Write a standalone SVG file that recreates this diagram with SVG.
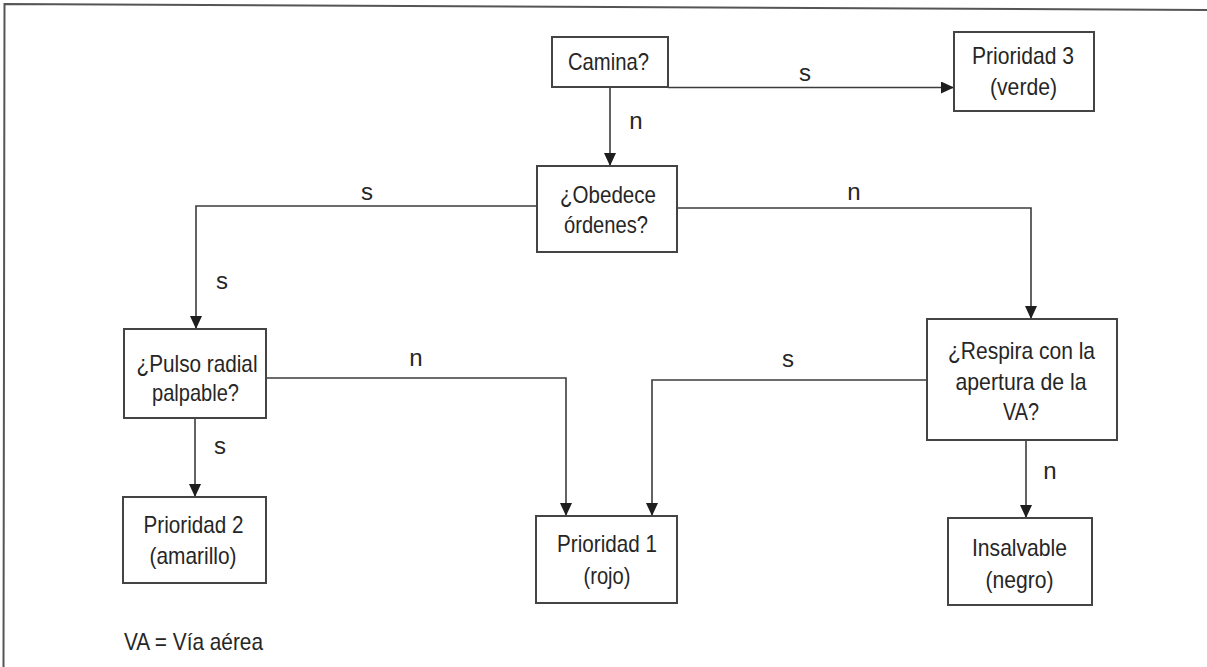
<svg xmlns="http://www.w3.org/2000/svg" width="1207" height="667" viewBox="0 0 1207 667">
<defs>
<style>
.box{fill:#fff;stroke:#444;stroke-width:2}
.t{font-family:"Liberation Sans Narrow","Liberation Sans",Arial,sans-serif;font-size:24px;fill:#262626;text-anchor:middle}
.lbl{font-family:"Liberation Sans Narrow","Liberation Sans",Arial,sans-serif;font-size:24px;fill:#262626;text-anchor:middle}
.c{fill:none;stroke:#3c3c3c;stroke-width:1.6}
</style>
<marker id="arr" markerUnits="userSpaceOnUse" markerWidth="14" markerHeight="13" refX="13" refY="6" orient="auto">
<path d="M0,0 L13,6 L0,12 z" fill="#1e1e1e"/>
</marker>
</defs>
<rect x="0" y="0" width="1207" height="667" fill="#ffffff"/>
<path d="M3.5,667 L4.5,4 L1207,10" fill="none" stroke="#555" stroke-width="2"/>

<g id="connectors">
<path class="c" d="M668,87.5 L954,87.5" marker-end="url(#arr)"/>
<path class="c" d="M610,87 L610,166" marker-end="url(#arr)"/>
<path class="c" d="M536,206 L196,206 L196,329" marker-end="url(#arr)"/>
<path class="c" d="M677,208 L1031,208 L1031,319" marker-end="url(#arr)"/>
<path class="c" d="M266,378 L566,378 L566,516" marker-end="url(#arr)"/>
<path class="c" d="M927,380 L652,380 L652,516" marker-end="url(#arr)"/>
<path class="c" d="M195,418 L195,497" marker-end="url(#arr)"/>
<path class="c" d="M1026,440 L1026,518" marker-end="url(#arr)"/>
<text class="lbl" x="805" y="81">s</text>
<text class="lbl" x="636" y="129">n</text>
<text class="lbl" x="367" y="200">s</text>
<text class="lbl" x="854" y="200">n</text>
<text class="lbl" x="222" y="289">s</text>
<text class="lbl" x="416" y="366">n</text>
<text class="lbl" x="788" y="367">s</text>
<text class="lbl" x="220" y="454">s</text>
<text class="lbl" x="1050" y="479">n</text>
</g>

<g id="camina">
<rect class="box" x="552" y="37" width="116" height="50"/>
<text class="t" x="608.5" y="70" textLength="81" lengthAdjust="spacingAndGlyphs">Camina?</text>
</g>

<g id="prioridad3">
<rect class="box" x="954" y="32" width="140" height="79"/>
<text class="t" x="1023" y="64" textLength="102" lengthAdjust="spacingAndGlyphs">Prioridad 3</text>
<text class="t" x="1023.5" y="95" textLength="67" lengthAdjust="spacingAndGlyphs">(verde)</text>
</g>

<g id="obedece">
<rect class="box" x="537" y="166" width="140" height="86"/>
<text class="t" x="608" y="203" textLength="96" lengthAdjust="spacingAndGlyphs">¿Obedece</text>
<text class="t" x="606" y="233" textLength="84" lengthAdjust="spacingAndGlyphs">órdenes?</text>
</g>

<g id="pulso">
<rect class="box" x="124" y="329" width="142" height="89"/>
<text class="t" x="197" y="372" textLength="121" lengthAdjust="spacingAndGlyphs">¿Pulso radial</text>
<text class="t" x="195.5" y="401" textLength="87" lengthAdjust="spacingAndGlyphs">palpable?</text>
</g>

<g id="respira">
<rect class="box" x="927" y="319" width="190" height="121"/>
<text class="t" x="1021.5" y="359" textLength="147" lengthAdjust="spacingAndGlyphs">¿Respira con la</text>
<text class="t" x="1021" y="389.5" textLength="131" lengthAdjust="spacingAndGlyphs">apertura de la</text>
<text class="t" x="1021" y="420" textLength="36" lengthAdjust="spacingAndGlyphs">VA?</text>
</g>

<g id="prioridad2">
<rect class="box" x="123" y="497" width="143" height="86"/>
<text class="t" x="193.5" y="533" textLength="100" lengthAdjust="spacingAndGlyphs">Prioridad 2</text>
<text class="t" x="193" y="564" textLength="87" lengthAdjust="spacingAndGlyphs">(amarillo)</text>
</g>

<g id="prioridad1">
<rect class="box" x="536" y="516" width="141" height="87"/>
<text class="t" x="607" y="552" textLength="100" lengthAdjust="spacingAndGlyphs">Prioridad 1</text>
<text class="t" x="607" y="584" textLength="47" lengthAdjust="spacingAndGlyphs">(rojo)</text>
</g>

<g id="insalvable">
<rect class="box" x="948" y="518" width="144" height="87"/>
<text class="t" x="1019.5" y="556" textLength="95" lengthAdjust="spacingAndGlyphs">Insalvable</text>
<text class="t" x="1019.5" y="588" textLength="68" lengthAdjust="spacingAndGlyphs">(negro)</text>
</g>

<text class="t" x="124" y="650" style="text-anchor:start" textLength="139" lengthAdjust="spacingAndGlyphs">VA = Vía aérea</text>
</svg>
